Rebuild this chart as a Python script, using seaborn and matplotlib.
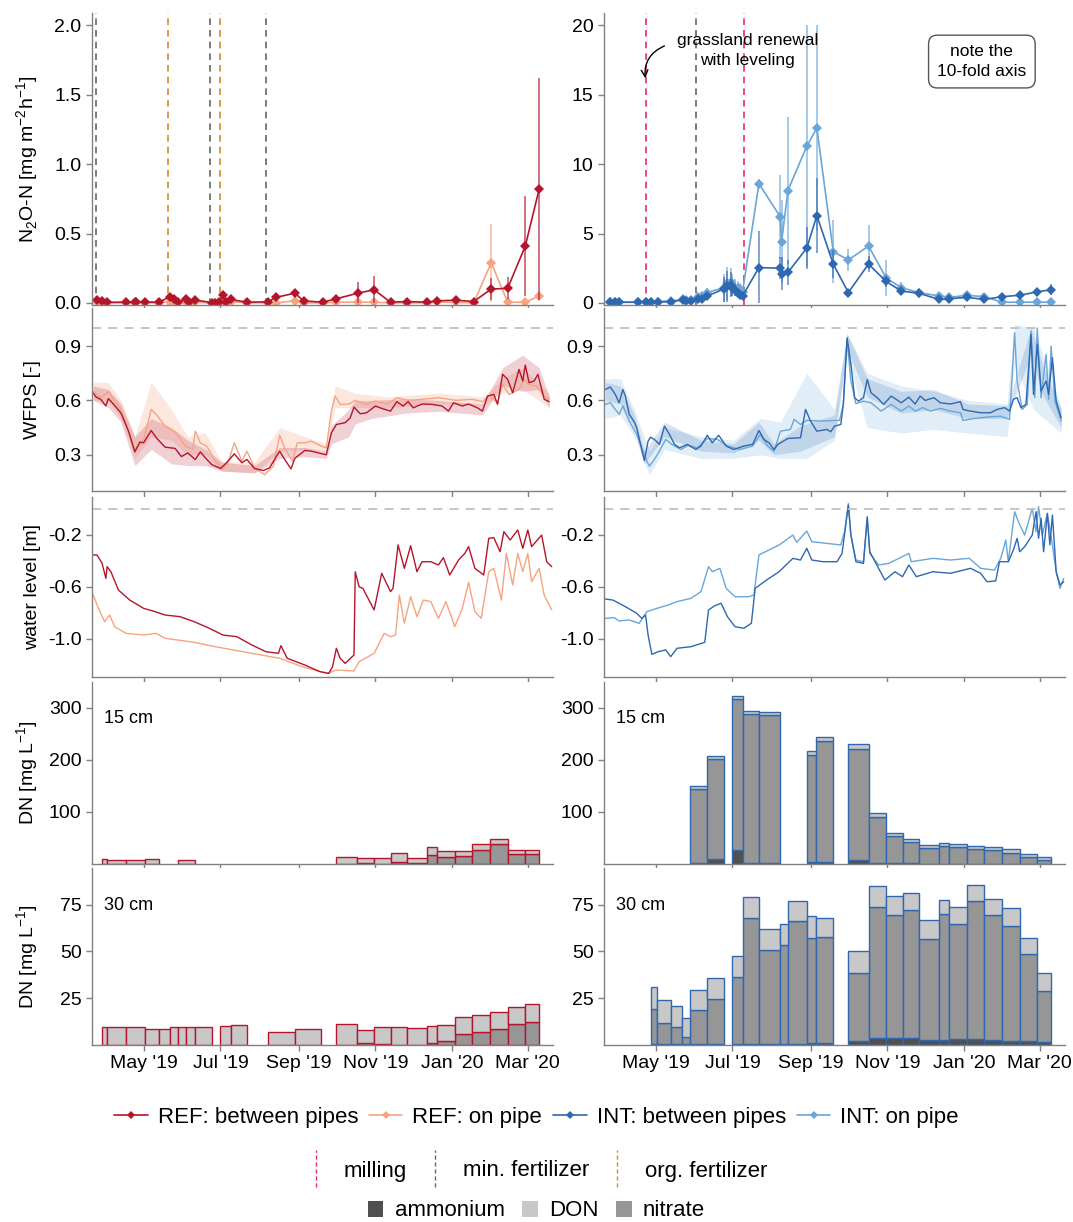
import numpy as np
import pandas as pd
import matplotlib
matplotlib.use('Agg')
import matplotlib.pyplot as plt
import matplotlib.dates as mdates
from matplotlib.ticker import FormatStrFormatter, FixedLocator
from matplotlib.lines import Line2D
from matplotlib.patches import Patch
from matplotlib.legend_handler import HandlerBase
import seaborn as sns

# --- DATA ---
START = pd.Timestamp('2019-03-22')   # day 0 of the continuous records

# N2O-N flux [mg m-2 h-1], REF site
ref_n2o_dates = ['2019-03-25', '2019-03-29', '2019-04-02', '2019-04-17', '2019-04-24', '2019-04-25',
                 '2019-05-02', '2019-05-13', '2019-05-22', '2019-05-25', '2019-05-28', '2019-06-04',
                 '2019-06-06', '2019-06-11', '2019-06-24', '2019-06-27', '2019-06-30', '2019-07-03',
                 '2019-07-05', '2019-07-09', '2019-07-22', '2019-08-08', '2019-08-14', '2019-08-29',
                 '2019-09-05', '2019-09-20', '2019-10-01', '2019-10-18', '2019-10-31', '2019-11-13',
                 '2019-11-26', '2019-12-12', '2019-12-20', '2020-01-04', '2020-01-18', '2020-02-01',
                 '2020-02-14', '2020-02-28', '2020-03-10']
ref_between_n2o = [0.02, 0.015, 0.005, 0.005, 0.005, 0.01, 0.007, 0.005, 0.045, 0.03,
                   0.01, 0.025, 0.01, 0.02, 0.003, 0.003, 0.005, 0.06, 0.01, 0.025,
                   0.005, 0.008, 0.04, 0.07, 0.015, 0.005, 0.03, 0.07, 0.095, 0.005,
                   0.01, 0.005, 0.015, 0.02, 0.01, 0.1, 0.105, 0.41, 0.82]
ref_between_n2o_sd = [0.01] * 23 + [0.03, 0.01, 0.01, 0.01, 0.08, 0.1, 0.01,
                                    0.01, 0.01, 0.01, 0.01, 0.01, 0.08, 0.08, 0.36, 0.8]
ref_pipe_n2o = [0.005, 0.005, 0.0, 0.0, 0.0, 0.005, 0.0, 0.0, 0.01, 0.005,
                0.0, 0.01, 0.0, 0.005, 0.0, 0.0, 0.0, 0.01, 0.0, 0.01,
                0.0, 0.0, 0.0, 0.015, 0.0, 0.0, 0.005, 0.005, 0.005, 0.0,
                0.0, 0.0, 0.005, 0.005, 0.0, 0.29, 0.005, 0.005, 0.05]
ref_pipe_n2o_sd = [0.0] * 35 + [0.28, 0.0, 0.0, 0.01]

# N2O-N flux, INT site
int_n2o_dates = ['2019-03-26', '2019-03-30', '2019-04-02', '2019-04-17', '2019-04-23', '2019-04-27',
                 '2019-05-03', '2019-05-13', '2019-05-23', '2019-05-25', '2019-05-29', '2019-06-04',
                 '2019-06-07', '2019-06-11', '2019-06-24', '2019-06-27', '2019-06-30', '2019-07-01',
                 '2019-07-03', '2019-07-05', '2019-07-07', '2019-07-09', '2019-07-22', '2019-08-08',
                 '2019-08-09', '2019-08-14', '2019-08-29', '2019-09-06', '2019-09-19', '2019-10-01',
                 '2019-10-17', '2019-10-31', '2019-11-12', '2019-11-26', '2019-12-12', '2019-12-20',
                 '2020-01-03', '2020-01-17', '2020-01-31', '2020-02-14', '2020-02-28', '2020-03-10']
int_between_n2o = [0.05, 0.05, 0.05, 0.05, 0.05, 0.1, 0.05, 0.1, 0.2, 0.15,
                   0.15, 0.3, 0.3, 0.5, 1.0, 1.2, 1.3, 1.1, 0.9, 0.7,
                   0.6, 0.5, 2.55, 2.5, 2.1, 2.2, 3.95, 6.3, 2.8, 0.75,
                   2.8, 1.55, 0.85, 0.7, 0.25, 0.3, 0.4, 0.25, 0.45, 0.55,
                   0.8, 0.95]
int_between_n2o_sd = [0.03, 0.03, 0.03, 0.03, 0.05, 0.05, 0.05, 0.05, 0.1, 0.1,
                      0.1, 0.1, 0.1, 0.2, 0.9, 1.1, 0.9, 0.6, 0.4, 0.3,
                      0.3, 0.2, 2.6, 0.8, 1.2, 0.9, 1.5, 2.7, 1.0, 0.2,
                      0.6, 0.4, 0.1, 0.1, 0.1, 0.1, 0.1, 0.1, 0.3, 0.1,
                      0.2, 0.4]
int_pipe_n2o = [0.05, 0.05, 0.05, 0.05, 0.1, 0.1, 0.1, 0.15, 0.25, 0.2,
                0.2, 0.4, 0.5, 0.75, 1.1, 1.4, 1.5, 1.3, 1.1, 1.1,
                1.0, 0.8, 8.6, 6.2, 4.4, 8.1, 11.3, 12.6, 3.7, 3.1,
                4.1, 1.8, 1.1, 0.75, 0.5, 0.4, 0.55, 0.45, 0.05, 0.05,
                0.05, 0.05]
int_pipe_n2o_sd = [0.03, 0.03, 0.03, 0.03, 0.1, 0.1, 0.05, 0.1, 0.1, 0.1,
                   0.1, 0.3, 0.3, 0.3, 1.0, 1.2, 1.0, 0.8, 0.6, 0.5,
                   0.4, 0.3, 0.3, 3.0, 3.0, 5.3, 8.7, 7.4, 2.3, 0.8,
                   1.5, 1.3, 0.4, 0.2, 0.1, 0.1, 0.1, 0.1, 0.03, 0.03,
                   0.03, 0.03]

# management events
ref_min_fert = ['2019-03-24', '2019-06-23', '2019-08-06']
ref_org_fert = ['2019-05-20', '2019-07-01']
int_milling = ['2019-04-23', '2019-07-10']
int_min_fert = ['2019-06-02']

# WFPS [-] (days since START)
ref_between_wfps_day = [0, 2, 6, 10, 12, 16, 22, 28, 33, 37, 40, 46, 50, 57, 65, 70, 75, 81, 85, 89,
                        94, 101, 103, 107, 112, 118, 122, 128, 135, 140, 148, 152, 157, 160, 168, 173,
                        179, 185, 189, 193, 200, 204, 207, 212, 217, 224, 229, 236, 241, 246, 250, 254,
                        261, 269, 277, 282, 286, 293, 298, 305, 309, 313, 318, 321, 325, 329, 333, 338,
                        341, 343, 346, 350, 353, 358, 362]
ref_between_wfps = [0.64, 0.62, 0.605, 0.57, 0.61, 0.58, 0.53, 0.43, 0.316, 0.37, 0.366, 0.434, 0.394,
                    0.342, 0.335, 0.29, 0.31, 0.274, 0.316, 0.283, 0.246, 0.224, 0.237, 0.265, 0.305,
                    0.256, 0.274, 0.224, 0.213, 0.228, 0.32, 0.274, 0.222, 0.28, 0.324, 0.32, 0.31, 0.30,
                    0.42, 0.467, 0.477, 0.504, 0.563, 0.526, 0.532, 0.569, 0.556, 0.541, 0.593, 0.569,
                    0.593, 0.559, 0.58, 0.578, 0.569, 0.541, 0.587, 0.569, 0.58, 0.559, 0.541, 0.624,
                    0.633, 0.578, 0.744, 0.716, 0.642, 0.771, 0.707, 0.795, 0.698, 0.707, 0.744, 0.606,
                    0.593]
ref_pipe_wfps_day = [0, 6, 12, 22, 33, 40, 46, 50, 57, 66, 73, 79, 81, 85, 90, 97, 103, 107, 112, 118,
                     122, 128, 136, 143, 148, 152, 158, 162, 168, 173, 181, 185, 189, 192, 196, 203, 208,
                     216, 224, 234, 241, 250, 261, 274, 288, 301, 309, 314, 321, 325, 330, 338, 342, 346,
                     352, 358, 362]
ref_pipe_wfps = [0.65, 0.615, 0.648, 0.55, 0.33, 0.38, 0.55, 0.523, 0.458, 0.42, 0.348, 0.33, 0.43,
                 0.366, 0.348, 0.265, 0.22, 0.256, 0.366, 0.265, 0.32, 0.228, 0.19, 0.237, 0.408, 0.338,
                 0.265, 0.366, 0.366, 0.375, 0.348, 0.338, 0.541, 0.624, 0.578, 0.58, 0.6, 0.578, 0.596,
                 0.58, 0.615, 0.6, 0.606, 0.615, 0.6, 0.606, 0.593, 0.624, 0.587, 0.688, 0.633, 0.66,
                 0.716, 0.688, 0.679, 0.624, 0.606]
int_between_wfps_day = [0, 4, 8, 11, 14, 16, 19, 23, 25, 28, 31, 34, 36, 39, 43, 47, 51, 55, 59, 65,
                        72, 76, 81, 85, 90, 96, 102, 110, 117, 122, 126, 130, 134, 137, 145, 155, 159,
                        163, 168, 176, 179, 182, 187, 189, 192, 195, 198, 201, 205, 208, 211, 216, 221,
                        227, 235, 241, 246, 250, 254, 261, 266, 274, 282, 284, 290, 298, 306, 311, 317,
                        321, 324, 327, 330, 334, 338, 340, 343, 346, 350, 352, 355, 358, 362]
int_between_wfps = [0.66, 0.674, 0.633, 0.587, 0.66, 0.624, 0.523, 0.482, 0.449, 0.357, 0.268, 0.375,
                    0.397, 0.385, 0.357, 0.458, 0.412, 0.357, 0.338, 0.357, 0.329, 0.348, 0.408, 0.366,
                    0.408, 0.348, 0.329, 0.348, 0.357, 0.434, 0.385, 0.366, 0.329, 0.357, 0.39, 0.394,
                    0.55, 0.486, 0.43, 0.44, 0.427, 0.458, 0.467, 0.578, 0.946, 0.8, 0.615, 0.596, 0.615,
                    0.716, 0.642, 0.615, 0.578, 0.624, 0.587, 0.618, 0.58, 0.624, 0.6, 0.615, 0.587,
                    0.58, 0.593, 0.55, 0.541, 0.532, 0.532, 0.55, 0.56, 0.541, 0.606, 0.615, 0.56, 0.578,
                    0.965, 0.633, 0.91, 0.652, 0.707, 0.633, 0.836, 0.596, 0.504]
int_pipe_wfps_day = [0, 4, 11, 14, 19, 25, 29, 33, 35, 39, 43, 48, 53, 60, 66, 73, 81, 89, 97, 107,
                     117, 123, 129, 134, 139, 147, 150, 155, 160, 171, 186, 189, 192, 195, 199, 205, 211,
                     219, 227, 235, 241, 246, 252, 258, 266, 274, 282, 284, 293, 303, 314, 321, 325, 327,
                     331, 335, 338, 341, 343, 346, 350, 352, 354, 357, 362]
int_pipe_wfps = [0.578, 0.587, 0.523, 0.569, 0.486, 0.412, 0.338, 0.265, 0.237, 0.274, 0.32, 0.385,
                 0.357, 0.329, 0.353, 0.338, 0.39, 0.385, 0.348, 0.329, 0.348, 0.412, 0.348, 0.32, 0.43,
                 0.44, 0.495, 0.467, 0.49, 0.486, 0.49, 0.578, 0.937, 0.707, 0.582, 0.596, 0.587, 0.541,
                 0.578, 0.541, 0.569, 0.541, 0.56, 0.541, 0.556, 0.541, 0.532, 0.49, 0.5, 0.508, 0.513,
                 0.495, 0.974, 0.707, 0.55, 0.578, 0.983, 0.615, 1.0, 0.615, 0.854, 0.606, 0.9, 0.596,
                 0.486]

# WFPS spread (lower / upper edge of the shaded band)
ref_between_band_day = [0, 12, 22, 33, 46, 62, 75, 89, 102, 128, 148, 168, 185, 189, 203, 208, 221, 248,
                        274, 309, 325, 341, 354, 362]
ref_between_band_lo = [0.60, 0.56, 0.48, 0.24, 0.33, 0.25, 0.24, 0.24, 0.21, 0.20, 0.28, 0.29, 0.28,
                       0.36, 0.40, 0.47, 0.50, 0.53, 0.54, 0.52, 0.68, 0.65, 0.66, 0.56]
ref_between_band_hi = [0.68, 0.66, 0.58, 0.40, 0.50, 0.45, 0.38, 0.33, 0.26, 0.24, 0.34, 0.34, 0.32,
                       0.46, 0.55, 0.60, 0.60, 0.61, 0.60, 0.58, 0.78, 0.85, 0.78, 0.62]
ref_pipe_band_day = [0, 12, 22, 33, 46, 62, 75, 89, 102, 128, 148, 168, 185, 192, 208, 234, 274, 309,
                     325, 341, 362]
ref_pipe_band_lo = [0.60, 0.60, 0.50, 0.28, 0.40, 0.38, 0.30, 0.30, 0.21, 0.20, 0.32, 0.33, 0.32, 0.56,
                    0.56, 0.56, 0.58, 0.57, 0.64, 0.66, 0.56]
ref_pipe_band_hi = [0.70, 0.70, 0.60, 0.40, 0.70, 0.55, 0.40, 0.42, 0.26, 0.26, 0.45, 0.40, 0.36, 0.68,
                    0.64, 0.62, 0.64, 0.62, 0.72, 0.78, 0.64]
int_between_band_day = [0, 12, 23, 31, 47, 76, 102, 122, 134, 155, 182, 192, 208, 235, 261, 288, 319,
                        338, 348, 362]
int_between_band_lo = [0.60, 0.58, 0.45, 0.25, 0.40, 0.32, 0.31, 0.38, 0.30, 0.32, 0.40, 0.88, 0.62,
                       0.53, 0.55, 0.50, 0.50, 0.85, 0.62, 0.45]
int_between_band_hi = [0.70, 0.68, 0.52, 0.32, 0.48, 0.38, 0.36, 0.48, 0.36, 0.46, 0.52, 0.97, 0.72,
                       0.65, 0.66, 0.58, 0.57, 1.0, 0.78, 0.55]
int_pipe_band_day = [0, 12, 23, 35, 47, 76, 102, 123, 139, 160, 182, 192, 208, 235, 261, 288, 319, 325,
                     340, 362]
int_pipe_band_lo = [0.50, 0.52, 0.40, 0.19, 0.33, 0.28, 0.28, 0.30, 0.28, 0.28, 0.38, 0.85, 0.45, 0.42,
                    0.44, 0.42, 0.40, 0.80, 0.55, 0.42]
int_pipe_band_hi = [0.72, 0.72, 0.55, 0.32, 0.45, 0.40, 0.38, 0.50, 0.48, 0.75, 0.55, 0.97, 0.75, 0.68,
                    0.65, 0.60, 0.58, 1.02, 1.0, 0.56]

# water level [m] (days since START)
ref_between_wl_day = [0, 3, 7, 10, 11, 14, 20, 29, 40, 49, 57, 69, 80, 91, 103, 114, 126, 137, 147, 149,
                      154, 168, 180, 187, 190, 193, 196, 200, 207, 208, 211, 214, 223, 229, 236, 238,
                      242, 247, 252, 257, 261, 268, 274, 278, 283, 290, 295, 298, 303, 310, 314, 318,
                      323, 326, 331, 337, 341, 345, 348, 356, 360, 364]
ref_between_wl = [-0.356, -0.356, -0.42, -0.536, -0.446, -0.485, -0.626, -0.703, -0.767, -0.792,
                  -0.818, -0.831, -0.869, -0.915, -0.972, -0.985, -1.049, -1.1, -1.113, -1.054,
                  -1.151, -1.203, -1.254, -1.267, -1.215, -1.074, -1.151, -1.19, -1.126, -0.485,
                  -0.6, -0.613, -0.779, -0.497, -0.638, -0.613, -0.279, -0.459, -0.285, -0.485,
                  -0.408, -0.408, -0.433, -0.377, -0.51, -0.395, -0.344, -0.292, -0.459, -0.51,
                  -0.228, -0.223, -0.331, -0.177, -0.241, -0.164, -0.305, -0.164, -0.292, -0.203,
                  -0.408, -0.446]
ref_pipe_wl_day = [0, 3, 9, 13, 17, 26, 40, 50, 57, 80, 97, 126, 148, 168, 186, 193, 207, 211, 223, 231,
                   236, 240, 243, 247, 252, 257, 262, 268, 274, 280, 287, 293, 298, 303, 308, 314, 318,
                   324, 328, 333, 337, 341, 345, 348, 354, 358, 364]
ref_pipe_wl = [-0.664, -0.741, -0.869, -0.818, -0.908, -0.959, -0.972, -0.959, -0.997, -1.028,
               -1.062, -1.113, -1.151, -1.223, -1.267, -1.241, -1.249, -1.177, -1.113, -0.959,
               -0.985, -0.972, -0.664, -0.882, -0.677, -0.831, -0.703, -0.715, -0.844, -0.715,
               -0.908, -0.767, -0.567, -0.792, -0.844, -0.485, -0.459, -0.703, -0.344, -0.587,
               -0.344, -0.485, -0.344, -0.562, -0.459, -0.664, -0.779]
int_between_wl_day = [0, 6, 11, 16, 25, 29, 32, 34, 37, 42, 48, 52, 57, 68, 79, 82, 87, 92, 97, 103,
                      110, 116, 119, 128, 138, 149, 155, 160, 164, 173, 184, 188, 193, 195, 199, 205,
                      208, 210, 217, 222, 230, 236, 241, 247, 260, 274, 290, 298, 303, 310, 313, 320,
                      324, 327, 329, 333, 339, 342, 344, 346, 348, 351, 353, 355, 358, 361, 364]
int_between_wl = [-0.695, -0.703, -0.728, -0.754, -0.805, -0.844, -0.818, -0.972, -1.121, -1.1,
                  -1.087, -1.138, -1.074, -1.062, -1.028, -0.779, -0.746, -0.728, -0.831, -0.908,
                  -0.92, -0.882, -0.613, -0.549, -0.485, -0.382, -0.395, -0.305, -0.395, -0.408,
                  -0.408, -0.344, 0.028, -0.203, -0.408, -0.421, -0.062, -0.331, -0.459, -0.549,
                  -0.485, -0.523, -0.433, -0.523, -0.485, -0.497, -0.459, -0.497, -0.562, -0.556,
                  -0.408, -0.408, -0.318, -0.228, -0.331, -0.292, -0.203, -0.023, -0.228, -0.074,
                  -0.331, -0.036, -0.279, -0.049, -0.485, -0.587, -0.562]
int_pipe_wl_day = [0, 7, 11, 19, 27, 33, 41, 50, 57, 68, 76, 82, 85, 91, 96, 103, 114, 118, 122, 138,
                   149, 152, 160, 164, 176, 187, 190, 193, 195, 199, 205, 208, 210, 217, 225, 241, 243,
                   260, 274, 289, 298, 309, 314, 318, 320, 325, 328, 333, 339, 342, 344, 347, 351, 355,
                   358, 361, 364]
int_pipe_wl = [-0.844, -0.838, -0.864, -0.856, -0.882, -0.792, -0.767, -0.741, -0.715, -0.69,
               -0.638, -0.446, -0.485, -0.459, -0.613, -0.677, -0.677, -0.664, -0.356, -0.279,
               -0.203, -0.259, -0.172, -0.254, -0.267, -0.279, -0.177, 0.041, -0.203, -0.395,
               -0.408, -0.074, -0.344, -0.433, -0.421, -0.344, -0.408, -0.382, -0.395, -0.382,
               -0.459, -0.472, -0.382, -0.241, -0.408, -0.023, -0.1, -0.203, 0.003, -0.177,
               0.015, -0.203, -0.036, -0.279, -0.485, -0.613, -0.536]

# dissolved N [mg L-1] per sampling interval
ref15_start = ['2019-03-29', '2019-04-02', '2019-04-17', '2019-05-02', '2019-05-28', '2019-10-01',
               '2019-10-17', '2019-10-31', '2019-11-13', '2019-11-26', '2019-12-12', '2019-12-20',
               '2020-01-03', '2020-01-17', '2020-01-31', '2020-02-14', '2020-02-28']
ref15_end = ['2019-04-02', '2019-04-17', '2019-05-02', '2019-05-13', '2019-06-11', '2019-10-17',
             '2019-10-31', '2019-11-13', '2019-11-26', '2019-12-12', '2019-12-20', '2020-01-03',
             '2020-01-17', '2020-01-31', '2020-02-14', '2020-02-28', '2020-03-10']
ref15_ammonium = [0, 0, 0, 0, 0, 0, 0, 0, 0, 0, 0.2, 0.2, 0.2, 0.2, 0.2, 0.2, 0.2]
ref15_nitrate = [0, 0, 0, 0, 0, 0, 1.0, 0.5, 3.8, 1.0, 16.5, 13.9, 15.8, 27.4, 37.6, 19.0, 19.7]
ref15_don = [9.6, 8.3, 8.3, 9.6, 7.0, 12.8, 10.5, 11.0, 18.0, 11.2, 16.0, 11.5, 8.4, 10.2, 10.2, 8.4, 7.0]

ref30_start = ['2019-03-29', '2019-04-02', '2019-04-17', '2019-05-02', '2019-05-13', '2019-05-22',
               '2019-05-28', '2019-06-04', '2019-06-11', '2019-07-01', '2019-07-09', '2019-08-08',
               '2019-08-29', '2019-10-01', '2019-10-17', '2019-10-31', '2019-11-13', '2019-11-26',
               '2019-12-12', '2019-12-20', '2020-01-03', '2020-01-17', '2020-01-31', '2020-02-14',
               '2020-02-28']
ref30_end = ['2019-04-02', '2019-04-17', '2019-05-02', '2019-05-13', '2019-05-22', '2019-05-28',
             '2019-06-04', '2019-06-11', '2019-06-24', '2019-07-09', '2019-07-22', '2019-08-29',
             '2019-09-19', '2019-10-17', '2019-10-31', '2019-11-13', '2019-11-26', '2019-12-12',
             '2019-12-20', '2020-01-03', '2020-01-17', '2020-01-31', '2020-02-14', '2020-02-28',
             '2020-03-10']
ref30_ammonium = [0] * 18 + [0.1, 0.1, 0.1, 0.1, 0.1, 0.1, 0.1]
ref30_nitrate = [0] * 14 + [0.9, 0.3, 0, 0, 1.1, 2.0, 5.8, 6.7, 8.7, 11.2, 12.4]
ref30_don = [9.5, 9.5, 9.6, 8.6, 8.6, 9.6, 9.6, 9.6, 9.6, 10.0, 10.7, 7.1, 8.6, 11.4, 7.3, 9.5, 9.6,
             9.3, 9.0, 8.6, 9.3, 9.5, 9.1, 8.9, 9.5]

int15_start = ['2019-05-28', '2019-06-11', '2019-07-01', '2019-07-09', '2019-07-22', '2019-08-29',
               '2019-09-05', '2019-10-01', '2019-10-17', '2019-10-31', '2019-11-13', '2019-11-26',
               '2019-12-12', '2019-12-20', '2020-01-03', '2020-01-17', '2020-01-31', '2020-02-14',
               '2020-02-28']
int15_end = ['2019-06-11', '2019-06-24', '2019-07-09', '2019-07-22', '2019-08-08', '2019-09-05',
             '2019-09-19', '2019-10-17', '2019-10-31', '2019-11-13', '2019-11-26', '2019-12-12',
             '2019-12-20', '2020-01-03', '2020-01-17', '2020-01-31', '2020-02-14', '2020-02-28',
             '2020-03-10']
int15_ammonium = [2, 10, 26, 1, 1, 4, 4, 7, 2, 1, 1, 0.5, 0.5, 0.5, 0.5, 0.5, 0.5, 0.3, 0.3]
int15_nitrate = [143, 192, 291, 288, 286, 205, 232, 215, 88, 52, 41, 29.5, 34.5, 31.5, 27.5, 25.5,
                 21.5, 13.2, 6.7]
int15_don = [5.6, 6, 7, 6, 5, 9, 8, 9, 9, 6, 6, 7, 5, 6, 6, 6, 6, 6.5, 6.5]

int30_start = ['2019-04-27', '2019-05-02', '2019-05-13', '2019-05-22', '2019-05-28', '2019-06-11',
               '2019-07-01', '2019-07-09', '2019-07-22', '2019-08-08', '2019-08-14', '2019-08-29',
               '2019-09-05', '2019-10-01', '2019-10-17', '2019-10-31', '2019-11-13', '2019-11-26',
               '2019-12-12', '2019-12-20', '2020-01-03', '2020-01-17', '2020-01-31', '2020-02-14',
               '2020-02-28']
int30_end = ['2019-05-02', '2019-05-13', '2019-05-22', '2019-05-28', '2019-06-11', '2019-06-24',
             '2019-07-09', '2019-07-22', '2019-08-08', '2019-08-14', '2019-08-29', '2019-09-05',
             '2019-09-19', '2019-10-17', '2019-10-31', '2019-11-13', '2019-11-26', '2019-12-12',
             '2019-12-20', '2020-01-03', '2020-01-17', '2020-01-31', '2020-02-14', '2020-02-28',
             '2020-03-10']
int30_ammonium = [0.5, 0.5, 0.3, 0.3, 0.3, 0.3, 0.5, 0.5, 0.5, 0.5, 0.5, 1, 1, 2.3, 3.9, 3.9, 3.9,
                  2.5, 2.5, 3.0, 3.4, 2.9, 2.1, 2.1, 1.4]
int30_nitrate = [18.6, 11.5, 9.5, 3.8, 18.5, 24.2, 36.1, 67.5, 50.4, 53.1, 65.8, 56.3, 56.7, 36.1,
                 70.0, 65.7, 68.1, 54.3, 67.3, 61.5, 73.7, 66.7, 61.7, 46.3, 27.7]
int30_don = [11.8, 11.8, 11.3, 10.2, 10.7, 11.2, 11.1, 11.1, 11.1, 11.2, 10.5, 11.5, 10.3, 11.6,
             11.1, 10.2, 9.3, 9.8, 7.9, 9.1, 8.3, 8.6, 9.2, 8.9, 9.3]

# --- STYLE ---
C_REF_B = '#b5152b'
C_REF_P = '#f7a382'
C_INT_B = '#2f68b0'
C_INT_P = '#6aa6d8'
C_MILL = '#e8257a'
C_MIN = '#666666'
C_ORG = '#d88a2a'
C_AMM = '#505050'
C_NIT = '#969696'
C_DON = '#c8c8c8'
AXC = '#808080'

sns.set_theme(style='ticks')
plt.rcParams['font.family'] = ['Liberation Sans', 'DejaVu Sans']
plt.rcParams['axes.unicode_minus'] = False
plt.rcParams['text.color'] = 'black'
plt.rcParams['axes.labelcolor'] = 'black'
FS = 14
LFS = 16


def d(days):
    return START + pd.to_timedelta(np.asarray(days), unit='D')


def style_axis(ax):
    for s in ['top', 'right']:
        ax.spines[s].set_visible(False)
    for s in ['left', 'bottom']:
        ax.spines[s].set_color(AXC)
        ax.spines[s].set_linewidth(1.0)
    ax.tick_params(colors=AXC, labelcolor='black', labelsize=FS, length=4, width=1, direction='out')
    ax.set_xlim(pd.Timestamp('2019-03-21'), pd.Timestamp('2020-03-21'))
    ax.xaxis.set_major_locator(mdates.MonthLocator(bymonth=[1, 3, 5, 7, 9, 11]))
    ax.xaxis.set_major_formatter(mdates.DateFormatter("%b '%y"))
    ax.set_xlabel('')
    ax.set_ylabel('')
    ax.grid(False)


def n2o_panel(ax, dates, series):
    x = pd.to_datetime(dates)
    for vals, sd, col in series:
        vals = np.array(vals)
        sd = np.array(sd)
        ax.vlines(x, np.clip(vals - sd, 0, None), vals + sd, color=col, alpha=0.65, lw=1.3)
        sns.lineplot(x=x, y=vals, ax=ax, color=col, lw=1.2, marker='D', markersize=5,
                     markeredgewidth=0, estimator=None)


def events(ax, dates, col):
    for e in dates:
        ax.axvline(pd.Timestamp(e), color=col, ls=(0, (4, 3)), lw=1.2)


def wfps_panel(ax, series):
    for dd, vals, bd, lo, hi, col, alpha in series:
        ax.fill_between(d(bd), lo, hi, color=col, alpha=alpha, lw=0)
    for dd, vals, bd, lo, hi, col, alpha in series:
        sns.lineplot(x=d(dd), y=vals, ax=ax, color=col, lw=1.0, estimator=None)
    ax.axhline(1.0, color='#c0c0c0', ls=(0, (5, 4)), lw=1.3)


def wl_panel(ax, series):
    for dd, vals, col in series:
        sns.lineplot(x=d(dd), y=vals, ax=ax, color=col, lw=1.0, estimator=None)
    ax.axhline(0.0, color='#c0c0c0', ls=(0, (5, 4)), lw=1.3)


def dn_panel(ax, start, end, amm, nit, don, edge):
    s = mdates.date2num(pd.to_datetime(start))
    w = mdates.date2num(pd.to_datetime(end)) - s
    amm = np.array(amm, float)
    nit = np.array(nit, float)
    don = np.array(don, float)
    kw = dict(width=w, align='edge', edgecolor=edge, linewidth=1.0)
    ax.bar(s, amm, color=C_AMM, **kw)
    ax.bar(s, nit, bottom=amm, color=C_NIT, **kw)
    ax.bar(s, don, bottom=amm + nit, color=C_DON, **kw)


# --- FIGURE ---
W, H = 1073, 1222
fig = plt.figure(figsize=(W / 100, H / 100), dpi=100)
col_x = [92, 604]
col_w = 461
rows = [(13, 305), (308, 491), (497, 677), (682, 864), (868, 1045)]
axes = []
for top, bot in rows:
    axes.append([fig.add_axes([cx / W, 1 - bot / H, col_w / W, (bot - top) / H]) for cx in col_x])

# row 1: N2O
ax = axes[0][0]
events(ax, ref_min_fert, C_MIN)
events(ax, ref_org_fert, C_ORG)
n2o_panel(ax, ref_n2o_dates, [(ref_pipe_n2o, ref_pipe_n2o_sd, C_REF_P),
                              (ref_between_n2o, ref_between_n2o_sd, C_REF_B)])
ax = axes[0][1]
events(ax, int_milling, C_MILL)
events(ax, int_min_fert, C_MIN)
n2o_panel(ax, int_n2o_dates, [(int_pipe_n2o, int_pipe_n2o_sd, C_INT_P),
                              (int_between_n2o, int_between_n2o_sd, C_INT_B)])

# row 2: WFPS
wfps_panel(axes[1][0], [
    (ref_pipe_wfps_day, ref_pipe_wfps, ref_pipe_band_day, ref_pipe_band_lo, ref_pipe_band_hi, C_REF_P, 0.25),
    (ref_between_wfps_day, ref_between_wfps, ref_between_band_day, ref_between_band_lo,
     ref_between_band_hi, C_REF_B, 0.2)])
wfps_panel(axes[1][1], [
    (int_pipe_wfps_day, int_pipe_wfps, int_pipe_band_day, int_pipe_band_lo, int_pipe_band_hi, C_INT_P, 0.2),
    (int_between_wfps_day, int_between_wfps, int_between_band_day, int_between_band_lo,
     int_between_band_hi, C_INT_B, 0.18)])

# row 3: water level
wl_panel(axes[2][0], [(ref_pipe_wl_day, ref_pipe_wl, C_REF_P), (ref_between_wl_day, ref_between_wl, C_REF_B)])
wl_panel(axes[2][1], [(int_pipe_wl_day, int_pipe_wl, C_INT_P), (int_between_wl_day, int_between_wl, C_INT_B)])

# rows 4-5: dissolved N
dn_panel(axes[3][0], ref15_start, ref15_end, ref15_ammonium, ref15_nitrate, ref15_don, C_REF_B)
dn_panel(axes[4][0], ref30_start, ref30_end, ref30_ammonium, ref30_nitrate, ref30_don, C_REF_B)
dn_panel(axes[3][1], int15_start, int15_end, int15_ammonium, int15_nitrate, int15_don, C_INT_B)
dn_panel(axes[4][1], int30_start, int30_end, int30_ammonium, int30_nitrate, int30_don, C_INT_B)

ylims = [[(-0.015, 2.09), (-0.15, 20.9)], (0.1, 1.11), (-1.295, 0.09), (0, 350), (0, 94.6)]
yticks = [[[0, 0.5, 1.0, 1.5, 2.0], [0, 5, 10, 15, 20]], [0.3, 0.6, 0.9], [-1.0, -0.6, -0.2],
          [100, 200, 300], [25, 50, 75]]
yfmt = [['%.1f', '%d'], '%.1f', '%.1f', '%d', '%d']
ylabels = [r'N$_\mathregular{2}$O-N [mg m$^\mathregular{-2}$h$^\mathregular{-1}$]', 'WFPS [-]',
           'water level [m]', r'DN [mg L$^\mathregular{-1}$]', r'DN [mg L$^\mathregular{-1}$]']

for r in range(5):
    for c in range(2):
        ax = axes[r][c]
        style_axis(ax)
        lim = ylims[r][c] if r == 0 else ylims[r]
        tk = yticks[r][c] if r == 0 else yticks[r]
        fm = yfmt[r][c] if r == 0 else yfmt[r]
        ax.set_ylim(*lim)
        ax.yaxis.set_major_locator(FixedLocator(tk))
        ax.yaxis.set_major_formatter(FormatStrFormatter(fm))
        if r < 4:
            ax.tick_params(axis='x', labelbottom=False)
        if c == 0:
            ax.set_ylabel(ylabels[r], fontsize=FS)
            ax.yaxis.set_label_coords(-0.11, 0.5)

for c in range(2):
    axes[3][c].text(0.025, 0.8, '15 cm', transform=axes[3][c].transAxes, fontsize=13, va='center')
    axes[4][c].text(0.025, 0.79, '30 cm', transform=axes[4][c].transAxes, fontsize=13, va='center')

# annotations in the INT flux panel
ax = axes[0][1]
ax.text(pd.Timestamp('2019-07-13'), 18.2, 'grassland renewal\nwith leveling', ha='center', va='center',
        fontsize=12.5, linespacing=1.45)
ax.annotate('', xy=(pd.Timestamp('2019-04-23'), 16.0), xytext=(pd.Timestamp('2019-05-10'), 18.6),
            arrowprops=dict(arrowstyle='->', color='black', lw=1.0, connectionstyle='arc3,rad=0.4'))
ax.text(pd.Timestamp('2020-01-15'), 17.4, 'note the\n10-fold axis', ha='center', va='center',
        fontsize=12.5, linespacing=1.45,
        bbox=dict(boxstyle='round,pad=0.5', fc='white', ec='#555555', lw=1.0))


# --- LEGENDS ---
class VLineHandler(HandlerBase):
    def create_artists(self, legend, orig_handle, xdescent, ydescent, width, height, fontsize, trans):
        xm = width / 2 - xdescent
        line = Line2D([xm, xm], [-ydescent - 0.7 * height, 1.7 * height - ydescent],
                      color=orig_handle.get_color(), ls=(0, (3, 2)), lw=1.0)
        line.set_transform(trans)
        return [line]


h1 = [Line2D([], [], color=c, marker='D', markersize=4, lw=1.2, markeredgewidth=0)
      for c in [C_REF_B, C_REF_P, C_INT_B, C_INT_P]]
l1 = ['REF: between pipes', 'REF: on pipe', 'INT: between pipes', 'INT: on pipe']
fig.legend(h1, l1, loc='center', bbox_to_anchor=(0.5, 1 - 1117 / H), ncol=4, frameon=False,
           fontsize=LFS, handlelength=1.5, handletextpad=0.45, columnspacing=0.5)

h2 = [Line2D([], [], color=c) for c in [C_MILL, C_MIN, C_ORG]]
l2 = ['milling', 'min. fertilizer', 'org. fertilizer']
fig.legend(h2, l2, loc='center', bbox_to_anchor=(0.5, 1 - 1171 / H), ncol=3, frameon=False,
           fontsize=LFS, handlelength=0.9, handletextpad=0.8, columnspacing=0.8,
           handler_map={Line2D: VLineHandler()})

h3 = [Patch(facecolor=c, edgecolor='none') for c in [C_AMM, C_DON, C_NIT]]
l3 = ['ammonium', 'DON', 'nitrate']
fig.legend(h3, l3, loc='center', bbox_to_anchor=(0.5, 1 - 1211 / H), ncol=3, frameon=False,
           fontsize=LFS, handlelength=0.7, handleheight=0.7, handletextpad=0.5, columnspacing=0.8)

fig.savefig('out.png', dpi=100)
